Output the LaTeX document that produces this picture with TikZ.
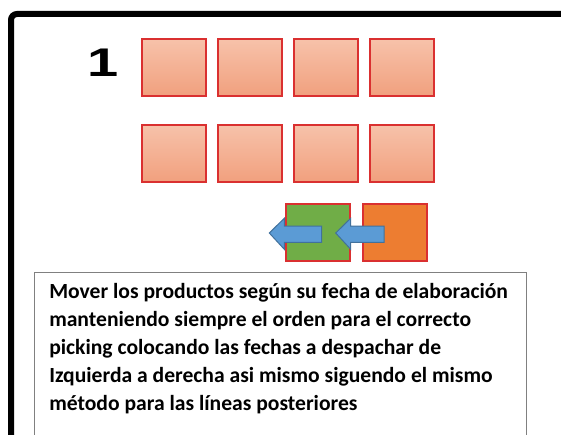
\documentclass[tikz,border=0pt]{standalone}
\usepackage{fontspec}
\setmainfont{Carlito}
\newfontfamily\numfont{Liberation Sans}
\usetikzlibrary{positioning}
\definecolor{salmon top}{RGB}{247,194,170}
\definecolor{salmon bot}{RGB}{241,160,126}
\definecolor{box red}{RGB}{218,48,48}
\definecolor{pallet green}{RGB}{112,173,71}
\definecolor{pallet orange}{RGB}{237,125,49}
\definecolor{arrow blue}{RGB}{91,155,213}
\definecolor{arrow edge}{RGB}{65,113,156}
\definecolor{note gray}{RGB}{128,128,128}
\tikzset{
  crate/.style={draw=box red,line width=1.5pt,top color=salmon top,bottom color=salmon bot,minimum width=48pt,minimum height=42.75pt,inner sep=0pt},
  pallet/.style={draw=box red,line width=1.5pt,minimum width=48pt,minimum height=42.75pt,inner sep=0pt},
  push/.style={draw=arrow edge,fill=arrow blue,line width=0.75pt},
  note/.style={align=left,inner sep=0pt,font=\bfseries\fontsize{16.2}{21}\selectfont}
}

\begin{document}
\begin{tikzpicture}[x=0.75pt,y=-0.75pt]
\useasboundingbox (0,0) rectangle (561,435);
% Frame
\begin{scope}
\clip (0,0) rectangle (561,435);
\draw[line width=4.5pt] (11,445) -- (11,20) arc[start angle=180,end angle=270,radius=6] -- (575,14);
\end{scope}
% Number
\node[font=\numfont\bfseries\fontsize{30}{30}\selectfont] (num) at (103,63) {\scalebox{1.4}[1]{1}};
% Squares
\node[crate] (c11) at (173.7,67.5) {}; % top row
\node[crate,right=7.5pt of c11] (c12) {};
\node[crate,right=7.5pt of c12] (c13) {};
\node[crate,right=7.5pt of c13] (c14) {};
\node[crate,below=20pt of c11] (c21) {}; % second row
\node[crate,right=7.5pt of c21] (c22) {};
\node[crate,right=7.5pt of c22] (c23) {};
\node[crate,right=7.5pt of c23] (c24) {};
\node[pallet,fill=pallet green] (green) at (318.4,232.5) {}; % bottom row
\node[pallet,fill=pallet orange,right=8.25pt of green] (orange) {};
% Arrows
\draw[push] (269.3,233) -- (284.3,218.3) -- (284.3,226) -- (321.7,226) -- (321.7,242.3) -- (284.3,242.3) -- (284.3,249.3) -- cycle;
\draw[push] (335.7,233) -- (350.7,218.3) -- (350.7,226) -- (384,226) -- (384,242.3) -- (350.7,242.3) -- (350.7,249.3) -- cycle;
% Note
\draw[note gray,line width=0.75pt] (34,436) -- (34,272) -- (526.7,272) -- (526.7,436);
\node[note,anchor=north west] (text) at (49,283) {Mover los productos según su fecha de elaboración\\
manteniendo siempre el orden para el correcto\\
picking colocando las fechas a despachar de\\
Izquierda a derecha asi mismo siguendo el mismo\\
método para las líneas posteriores};
\end{tikzpicture}
\end{document}
